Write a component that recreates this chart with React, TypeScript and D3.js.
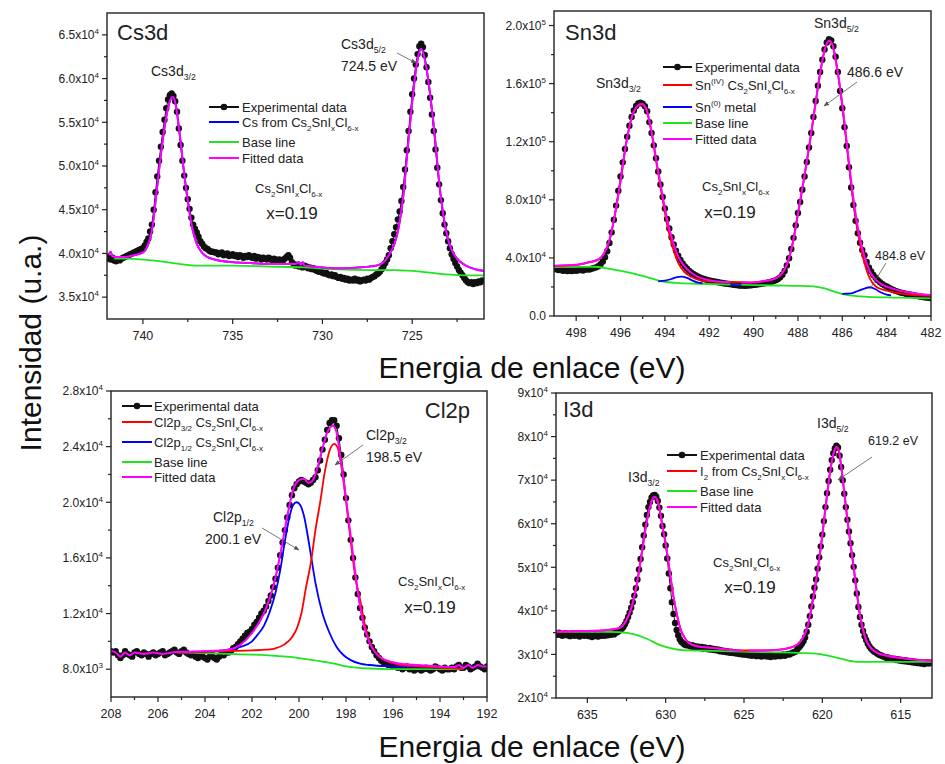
import React from 'react';
import * as d3 from 'd3';

type Pt = [number, number];
type Part = [string, ('n' | 'b' | 'p')?];

const FONT = 'Arial, "Liberation Sans", Helvetica, sans-serif';
const STEP = 0.1; // eV between experimental points
const FIT = '#ff00ff';
const RED = '#ff0000';
const BLUE = '#0000ff';
const BASE = '#1ee61e';

// ---------- Cs3d (counts in 10^3) ----------
const csFirstE = 742.0;
const csCounts = [
  39.6, 39.4, 39.3, 39.5, 39.2, 39.1, 39.3, 39.2, 39.4, 39.5, // 742.0
  39.6, 39.7, 39.8, 39.9, 40.0, 40.1, 40.2, 40.3, 40.4, 40.5, // 741.0
  40.6, 40.9, 41.3, 41.7, 42.5, 43.3, 45.0, 47.0, 48.8, 50.6, // 740.0
  52.2, 53.9, 55.3, 56.6, 57.6, 58.1, 58.3, 58.0, 57.4, 56.2, // 739.0
  54.3, 52.4, 50.6, 48.9, 47.5, 46.2, 45.1, 44.1, 43.3, 42.8, // 738.0
  42.4, 41.9, 41.4, 41.1, 40.8, 40.6, 40.5, 40.3, 40.2, 40.2, // 737.0
  40.1, 40.1, 39.9, 40.0, 40.1, 39.8, 39.9, 40.0, 39.7, 39.8, // 736.0
  39.9, 39.7, 39.8, 39.6, 39.8, 39.7, 39.5, 39.7, 39.6, 39.8, // 735.0
  39.6, 39.5, 39.7, 39.4, 39.6, 39.5, 39.3, 39.5, 39.4, 39.3, // 734.0
  39.5, 39.4, 39.2, 39.4, 39.3, 39.2, 39.3, 39.1, 39.2, 39.4, // 733.0
  39.6, 39.8, 39.5, 39.0, 38.8, 38.6, 38.7, 38.5, 38.6, 38.4, // 732.0
  38.6, 38.5, 38.3, 38.4, 38.2, 38.3, 38.1, 38.0, 37.9, 38.0, // 731.0
  37.8, 37.7, 37.8, 37.6, 37.5, 37.6, 37.4, 37.5, 37.3, 37.2, // 730.0
  37.3, 37.1, 37.2, 37.0, 37.1, 36.9, 37.0, 36.9, 37.1, 36.9, // 729.0
  37.0, 36.8, 36.9, 37.0, 36.9, 37.1, 37.0, 37.2, 37.3, 37.4, // 728.0
  37.6, 37.7, 37.9, 38.2, 38.5, 38.9, 39.3, 39.8, 40.6, 41.4, // 727.0
  42.2, 43.0, 43.9, 44.8, 46.0, 47.6, 49.6, 51.8, 54.0, 56.2, // 726.0
  58.2, 60.0, 61.6, 62.8, 63.7, 64.0, 63.6, 62.7, 61.3, 59.6, // 725.0
  57.8, 55.9, 54.0, 51.9, 49.8, 47.9, 46.1, 44.6, 43.3, 42.3, // 724.0
  41.4, 40.6, 39.9, 39.4, 38.9, 38.5, 38.1, 37.8, 37.5, 37.2, // 723.0
  36.9, 36.7, 36.6, 36.7, 36.5, 36.7, 36.6, 36.8, 36.7, 36.9, // 722.0
];
const csFit: Pt[] = [
  [741.9, 39.9], [741.8, 40.2], [741.7, 39.7], [741.5, 39.6], [741.0, 39.6], [740.5, 39.8],
  [740.0, 40.1], [739.75, 40.8], [739.5, 42.6], [739.25, 46.8], [739.0, 51.3], [738.75, 55.0],
  [738.5, 57.4], [738.35, 57.9], [738.2, 57.3], [738.0, 54.5], [737.75, 50.0], [737.5, 46.0],
  [737.25, 42.9], [737.0, 41.1], [736.75, 40.2], [736.5, 39.7], [736.0, 39.3], [735.0, 39.0],
  [734.0, 38.9], [733.0, 38.8], [732.0, 38.8], [731.5, 38.8], [731.3, 39.0], [731.2, 38.7],
  [731.1, 39.0], [731.0, 38.6], [730.5, 38.5], [730.0, 38.4], [729.0, 38.3], [728.0, 38.4],
  [727.0, 38.6], [726.5, 39.2], [726.25, 40.0], [726.0, 41.0], [725.75, 43.0], [725.5, 46.5],
  [725.25, 52.0], [725.0, 57.3], [724.75, 61.6], [724.5, 63.4], [724.25, 61.7], [724.0, 58.2],
  [723.75, 53.6], [723.5, 48.2], [723.25, 44.2], [723.0, 41.6], [722.75, 40.2], [722.5, 39.4],
  [722.0, 38.6], [721.5, 38.2], [721.0, 38.0],
];
const csBase: Pt[] = [
  [741.6, 39.4], [741.0, 39.4], [740.0, 39.3], [739.0, 39.1], [738.0, 38.8], [737.0, 38.6],
  [736.0, 38.6], [735.0, 38.6], [733.0, 38.5], [731.0, 38.4], [729.5, 38.2], [727.0, 38.1],
  [726.0, 38.1], [725.0, 38.0], [724.0, 37.8], [723.0, 37.6], [722.0, 37.5], [721.0, 37.5],
];

// ---------- Sn3d (counts in 10^3) ----------
const snFirstE = 499.0;
const snCounts = [
  32.8, 32.2, 31.6, 31.9, 31.2, 31.5, 30.9, 31.3, 31.0, 31.4, // 499.0
  31.1, 31.5, 31.8, 31.3, 31.9, 32.2, 32.0, 32.6, 33.0, 33.5, // 498.0
  34.3, 35.6, 37.6, 40.4, 44.6, 50.3, 57.6, 66.3, 76.0, 86.2, // 497.0
  96.0, 105.8, 115.0, 123.5, 131.0, 137.0, 141.5, 144.6, 146.3, 146.8, // 496.0
  146.2, 144.4, 141.0, 133.5, 126.0, 117.5, 108.6, 99.5, 90.5, 82.0, // 495.0
  74.0, 66.8, 60.2, 54.3, 49.3, 45.0, 41.5, 38.6, 36.2, 34.2, // 494.0
  32.5, 31.0, 29.8, 28.7, 27.9, 27.1, 26.3, 25.8, 25.3, 24.9, // 493.0
  24.5, 24.1, 23.8, 23.6, 23.2, 23.0, 22.7, 22.4, 22.3, 22.0, // 492.0
  21.8, 21.5, 21.3, 21.1, 20.9, 21.0, 20.8, 20.9, 21.1, 21.2, // 491.0
  21.4, 21.6, 21.8, 22.0, 22.3, 22.5, 22.8, 23.2, 23.6, 24.1, // 490.0
  24.7, 25.5, 26.6, 28.4, 31.0, 34.8, 39.8, 46.2, 53.8, 62.4, // 489.0
  71.0, 78.5, 87.0, 96.0, 106.0, 116.0, 126.0, 137.0, 148.0, 158.5, // 488.0
  168.0, 176.5, 183.5, 188.3, 190.6, 189.8, 185.8, 178.5, 168.0, 155.0, // 487.0
  143.0, 130.0, 117.0, 102.5, 88.5, 76.5, 65.5, 57.0, 50.5, 45.5, // 486.0
  41.8, 37.2, 33.5, 30.6, 28.3, 26.4, 24.7, 23.3, 22.1, 21.1, // 485.0
  20.3, 19.4, 18.6, 17.9, 17.3, 16.8, 16.3, 15.9, 15.6, 15.2, // 484.0
  14.9, 14.6, 14.3, 14.0, 13.7, 13.4, 13.2, 12.9, 12.7, 12.5, // 483.0
  12.3, // 482.0
];
const snFitA: Pt[] = [
  [499.0, 34.6], [498.0, 35.3], [497.5, 36.8], [497.0, 39.0], [496.75, 43.0], [496.5, 52.3],
  [496.25, 70.0], [496.0, 93.0], [495.75, 118.5], [495.5, 136.5], [495.25, 144.5], [495.05, 146.0],
  [494.85, 143.0], [494.6, 127.0], [494.35, 104.0], [494.1, 82.5], [493.9, 66.5], [493.65, 52.0],
  [493.4, 41.0], [493.1, 34.0], [492.8, 29.6], [492.4, 26.2], [492.0, 24.6], [491.5, 23.6],
  [491.05, 23.1],
];
const snFitB: Pt[] = [
  [490.55, 23.0], [490.0, 23.2], [489.5, 24.2], [489.0, 26.0], [488.75, 28.8], [488.5, 35.5],
  [488.25, 49.0], [488.0, 70.5], [487.75, 92.5], [487.5, 116.0], [487.25, 142.0], [487.0, 167.0],
  [486.8, 183.0], [486.6, 189.6], [486.45, 187.0], [486.25, 172.0], [486.0, 146.0], [485.75, 112.5],
  [485.5, 81.0], [485.25, 57.0], [485.0, 41.0], [484.75, 30.5], [484.5, 25.0], [484.25, 22.0],
  [484.0, 20.2], [483.5, 17.8], [483.0, 16.2], [482.5, 15.2], [482.0, 14.5],
];
const snIV: Pt[] = [
  [499.0, 34.4], [498.0, 35.1], [497.5, 36.6], [497.0, 38.8], [496.75, 42.8], [496.5, 52.0],
  [496.25, 69.8], [496.0, 92.8], [495.75, 118.3], [495.5, 136.3], [495.25, 144.3], [495.05, 145.8],
  [494.85, 142.6], [494.6, 126.0], [494.35, 102.5], [494.1, 80.0], [493.9, 63.0], [493.65, 47.5],
  [493.4, 36.5], [493.1, 30.0], [492.8, 26.8], [492.4, 24.6], [492.0, 23.8], [491.5, 23.4],
  [491.0, 23.4], [490.5, 23.3], [490.0, 23.0], [489.5, 24.0], [489.0, 25.8], [488.75, 28.6],
  [488.5, 35.3], [488.25, 48.8], [488.0, 70.3], [487.75, 92.3], [487.5, 115.8], [487.25, 141.8],
  [487.0, 166.8], [486.8, 182.8], [486.6, 189.4], [486.45, 186.8], [486.25, 171.6], [486.0, 145.2],
  [485.75, 111.0], [485.5, 78.5], [485.25, 53.5], [485.0, 36.5], [484.75, 25.5], [484.5, 20.5],
  [484.25, 18.5], [484.0, 17.4], [483.5, 15.8], [483.0, 14.8], [482.5, 14.2], [482.0, 13.8],
];
const snMetalA: Pt[] = [
  [494.3, 23.9], [494.0, 24.3], [493.7, 25.5], [493.45, 26.8], [493.25, 27.1], [493.0, 26.2],
  [492.75, 24.4], [492.5, 23.0], [492.3, 22.6],
];
const snMetalB: Pt[] = [[491.05, 21.4], [490.8, 21.3], [490.55, 21.3]];
const snMetalC: Pt[] = [
  [486.0, 15.2], [485.6, 15.6], [485.3, 17.2], [485.0, 18.9], [484.75, 19.8], [484.5, 18.4],
  [484.25, 16.2], [484.0, 14.7], [483.8, 14.2],
];
const snBase: Pt[] = [
  [499.0, 33.6], [498.0, 33.8], [497.2, 33.9], [496.5, 32.5], [495.5, 29.6], [494.8, 26.8],
  [494.2, 24.1], [493.5, 22.8], [492.5, 22.2], [491.0, 21.6], [490.0, 21.3], [489.0, 21.0],
  [488.0, 20.8], [487.3, 20.4], [486.8, 19.0], [486.3, 16.5], [485.8, 14.6], [485.0, 13.4],
  [484.0, 12.8], [483.0, 12.5], [482.0, 12.2],
];

// ---------- Cl2p (counts in 10^3) ----------
const clFirstE = 208.0;
const clCounts = [
  9.3, 9.2, 9.3, 9.0, 8.8, 9.0, 9.3, 9.1, 9.0, 8.9, // 208.0
  9.2, 9.3, 9.1, 9.0, 9.2, 9.1, 8.9, 9.1, 9.2, 9.0, // 207.0
  9.1, 9.2, 9.3, 9.0, 9.1, 9.2, 9.3, 9.4, 9.2, 9.1, // 206.0
  9.3, 9.4, 9.2, 9.1, 9.0, 9.1, 8.9, 8.8, 9.0, 8.9, // 205.0
  8.8, 8.7, 8.9, 9.0, 8.8, 8.7, 8.9, 9.1, 9.0, 9.2, // 204.0
  9.2, 9.3, 9.5, 9.6, 9.8, 10.0, 10.2, 10.4, 10.6, 10.7, // 203.0
  10.9, 11.2, 11.4, 11.7, 12.0, 12.2, 12.5, 12.9, 13.3, 13.9, // 202.0
  14.5, 15.3, 16.2, 17.1, 18.0, 18.9, 19.8, 20.5, 21.0, 21.3, // 201.0
  21.5, 21.6, 21.5, 21.4, 21.3, 21.4, 21.6, 21.8, 22.3, 23.0, // 200.0
  23.8, 24.5, 25.2, 25.7, 25.9, 25.9, 25.5, 24.6, 23.4, 22.0, // 199.0
  20.3, 18.7, 17.3, 16.0, 14.6, 13.4, 12.4, 11.7, 11.0, 10.5, // 198.0
  10.0, 9.6, 9.3, 9.0, 8.8, 8.6, 8.5, 8.4, 8.3, 8.3, // 197.0
  8.2, 8.2, 8.1, 8.2, 8.0, 8.1, 8.2, 8.0, 8.1, 7.9, // 196.0
  8.0, 8.1, 7.9, 8.0, 8.1, 8.0, 7.9, 8.0, 8.2, 8.1, // 195.0
  8.0, 7.9, 8.1, 8.0, 8.0, 8.1, 8.0, 8.2, 8.3, 8.1, // 194.0
  8.1, 8.3, 8.2, 8.0, 8.1, 8.2, 8.4, 8.2, 8.1, 8.0, // 193.0
  8.2, // 192.0
];
const clFit: Pt[] = [
  [208.0, 9.3], [207.8, 9.2], [207.6, 8.9], [207.4, 9.2], [207.2, 9.0], [207.0, 9.2],
  [206.6, 9.1], [206.2, 9.2], [205.8, 9.1], [205.4, 9.2], [205.0, 9.25], [204.0, 9.3],
  [203.0, 9.4], [202.5, 9.75], [202.0, 10.6], [201.5, 12.0], [201.25, 13.1], [201.0, 14.6],
  [200.75, 16.7], [200.5, 19.0], [200.25, 20.9], [200.0, 21.6], [199.8, 21.7], [199.6, 21.4],
  [199.45, 21.5], [199.25, 22.3], [199.0, 23.9], [198.75, 25.2], [198.55, 25.5], [198.4, 25.0],
  [198.25, 23.4], [198.0, 20.3], [197.75, 16.9], [197.5, 13.6], [197.25, 11.2], [197.0, 9.9],
  [196.75, 9.2], [196.5, 8.8], [196.0, 8.5], [195.5, 8.35], [195.0, 8.3], [194.0, 8.2],
  [193.4, 8.15], [193.2, 8.3], [193.0, 8.1], [192.8, 8.3], [192.6, 8.1], [192.4, 8.3],
  [192.2, 8.2], [192.0, 8.2],
];
const cl32: Pt[] = [
  [205.2, 9.2], [204.0, 9.25], [203.0, 9.3], [202.0, 9.35], [201.4, 9.4], [201.0, 9.5],
  [200.6, 9.8], [200.3, 10.3], [200.1, 10.9], [199.9, 12.0], [199.7, 13.9], [199.5, 15.6],
  [199.3, 18.0], [199.1, 20.0], [198.9, 22.2], [198.7, 23.7], [198.5, 24.2], [198.35, 23.9],
  [198.2, 22.6], [198.0, 20.1], [197.8, 17.2], [197.6, 14.6], [197.4, 13.0], [197.2, 11.2],
  [197.0, 10.0], [196.7, 9.1], [196.3, 8.6], [195.7, 8.3], [195.0, 8.2], [194.0, 8.1], [193.0, 8.05],
];
const cl12: Pt[] = [
  [205.2, 9.2], [204.0, 9.25], [203.5, 9.3], [203.0, 9.4], [202.5, 9.6], [202.0, 10.0],
  [201.75, 10.5], [201.5, 11.1], [201.25, 12.1], [201.0, 13.5], [200.8, 15.1], [200.6, 17.2],
  [200.4, 19.0], [200.25, 19.8], [200.1, 20.0], [199.95, 19.8], [199.8, 19.1], [199.55, 16.8],
  [199.3, 14.2], [199.0, 12.0], [198.7, 10.6], [198.4, 9.6], [198.1, 9.0], [197.8, 8.65],
  [197.4, 8.4], [197.0, 8.3], [196.0, 8.2], [195.0, 8.15], [194.0, 8.1], [193.0, 8.05],
];
const clBase: Pt[] = [
  [205.2, 9.19], [204.0, 9.15], [203.0, 9.1], [202.0, 9.05], [201.0, 8.95], [200.0, 8.8],
  [199.0, 8.55], [198.5, 8.4], [198.0, 8.2], [197.5, 8.1], [197.0, 8.05], [196.0, 8.0],
  [194.0, 8.0], [193.0, 8.0],
];

// ---------- I3d (counts in 10^3) ----------
const iFirstE = 637.0;
const iCounts = [
  34.8, 34.5, 35.0, 34.6, 34.3, 34.7, 34.9, 34.4, 34.6, 34.2, // 637.0
  34.5, 34.8, 34.3, 34.6, 34.4, 34.1, 34.5, 34.7, 34.3, 34.4, // 636.0
  34.6, 34.2, 34.4, 34.0, 34.3, 34.5, 34.2, 34.1, 34.4, 34.3, // 635.0
  34.5, 34.3, 34.6, 34.4, 34.7, 34.5, 34.8, 34.6, 35.0, 35.1, // 634.0
  35.3, 35.6, 35.9, 36.3, 36.9, 37.7, 38.6, 39.6, 40.7, 42.0, // 633.0
  43.5, 45.2, 47.2, 49.5, 51.9, 54.6, 57.3, 59.8, 62.0, 63.8, // 632.0
  65.0, 66.0, 66.5, 66.6, 66.2, 65.2, 63.7, 61.8, 59.5, 57.6, // 631.0
  55.0, 52.0, 48.6, 45.2, 42.0, 39.3, 37.2, 35.6, 34.4, 33.5, // 630.0
  32.9, 32.6, 32.3, 32.1, 32.4, 32.0, 31.8, 32.1, 31.7, 31.9, // 629.0
  31.6, 31.8, 31.5, 31.7, 31.3, 31.6, 31.4, 31.2, 31.5, 31.1, // 628.0
  31.3, 31.0, 31.2, 30.9, 31.1, 30.7, 30.9, 30.6, 30.8, 30.5, // 627.0
  30.7, 30.4, 30.6, 30.3, 30.5, 30.2, 30.4, 30.1, 30.3, 30.0, // 626.0
  30.2, 29.9, 30.1, 29.8, 30.0, 29.7, 30.0, 29.8, 29.6, 29.9, // 625.0
  29.7, 29.5, 29.8, 29.6, 29.9, 29.5, 29.7, 29.4, 29.6, 29.8, // 624.0
  29.5, 29.7, 29.9, 29.6, 29.8, 30.0, 29.7, 29.9, 30.1, 30.0, // 623.0
  30.2, 30.4, 30.5, 30.7, 31.2, 31.6, 32.0, 32.5, 33.1, 33.9, // 622.0
  35.2, 36.8, 38.8, 41.0, 43.3, 45.3, 47.2, 49.7, 52.3, 54.8, // 621.0
  57.5, 60.6, 63.8, 67.0, 69.8, 72.4, 74.6, 76.2, 77.3, 77.9, // 620.0
  77.5, 75.6, 73.0, 70.0, 66.9, 63.8, 60.9, 58.2, 55.5, 52.8, // 619.0
  50.1, 47.0, 44.0, 40.9, 38.6, 36.8, 35.4, 34.2, 33.3, 32.5, // 618.0
  31.9, 31.4, 31.0, 30.7, 30.5, 30.2, 30.0, 29.8, 29.7, 29.5, // 617.0
  29.4, 29.2, 29.3, 29.0, 29.1, 28.9, 29.0, 28.7, 28.9, 28.6, // 616.0
  28.8, 28.5, 28.7, 28.4, 28.6, 28.3, 28.5, 28.2, 28.4, 28.1, // 615.0
  28.3, 28.0, 28.2, 27.9, 28.1, 27.8, 28.0, 28.2, 27.9, 28.1, // 614.0
  28.0, // 613.0
];
const iFitA: Pt[] = [
  [637.0, 35.2], [636.0, 35.3], [635.0, 35.4], [634.0, 35.5], [633.5, 35.7], [633.0, 36.0],
  [632.75, 36.6], [632.5, 37.9], [632.25, 40.0], [632.0, 43.3], [631.75, 48.0], [631.5, 53.8],
  [631.25, 59.6], [631.0, 63.9], [630.85, 65.6], [630.7, 66.2], [630.55, 65.5], [630.4, 63.6],
  [630.2, 59.2], [630.0, 55.5], [629.75, 49.3], [629.5, 43.2], [629.25, 38.6], [629.0, 35.3],
  [628.75, 33.6], [628.5, 32.6], [628.0, 31.9], [627.0, 31.5], [626.0, 31.1], [625.1, 30.9],
];
const iFitB: Pt[] = [
  [624.7, 30.9], [624.0, 30.9], [623.0, 31.0], [622.5, 31.2], [622.0, 31.6], [621.6, 32.3],
  [621.3, 33.5], [621.1, 34.8], [620.9, 37.0], [620.7, 40.6], [620.5, 44.5], [620.3, 49.3],
  [620.1, 54.5], [619.9, 60.4], [619.7, 66.6], [619.5, 72.0], [619.3, 75.9], [619.1, 77.6],
  [618.95, 76.8], [618.8, 73.3], [618.6, 67.2], [618.4, 61.0], [618.2, 55.4], [618.0, 50.0],
  [617.8, 44.2], [617.6, 39.2], [617.4, 35.6], [617.2, 33.3], [617.0, 31.9], [616.6, 30.6],
  [616.0, 29.8], [615.0, 29.2], [614.0, 28.8], [613.0, 28.6],
];
const iBase: Pt[] = [
  [637.0, 35.2], [634.0, 35.2], [633.0, 35.1], [632.0, 34.6], [631.2, 33.6], [630.4, 32.2],
  [629.5, 31.3], [628.9, 31.0], [627.0, 30.8], [624.6, 30.6], [622.0, 30.4], [620.4, 30.2],
  [619.5, 29.6], [618.9, 29.1], [617.8, 28.3], [616.0, 28.3], [613.0, 28.3],
];

const toPts = (first: number, counts: number[]): Pt[] =>
  counts.map((v, i) => [first - i * STEP, v] as Pt);

const chem: Part[] = [['Cs'], ['2', 'b'], ['SnI'], ['x', 'b'], ['Cl'], ['6-x', 'b']];

function Rich({ x, y, size, parts, anchor = 'start' }: { x: number; y: number; size: number; parts: Part[]; anchor?: string }) {
  let cur = 0;
  return (
    <text x={x} y={y} fontSize={size} textAnchor={anchor} fill="#222">
      {parts.map(([t, k = 'n'], i) => {
        const off = k === 'b' ? size * 0.32 : k === 'p' ? -size * 0.42 : 0;
        const dy = off - cur;
        cur = off;
        return (
          <tspan key={i} dy={dy} fontSize={k === 'n' ? size : size * 0.62}>
            {t}
          </tspan>
        );
      })}
    </text>
  );
}

interface Item { y: number; color: string; dot?: boolean; parts: Part[] }
function Legend({ x1, x2, tx, items }: { x1: number; x2: number; tx: number; items: Item[] }) {
  return (
    <g>
      {items.map((it, i) => (
        <g key={i}>
          <line x1={x1} x2={x2} y1={it.y} y2={it.y} stroke={it.color} strokeWidth={2} />
          {it.dot && <circle cx={(x1 + x2) / 2} cy={it.y} r={3.3} fill="#111" />}
          <Rich x={tx} y={it.y + 4.6} size={13} parts={it.parts} />
        </g>
      ))}
    </g>
  );
}

const legendRest = (ys: number[]): Item[] => [
  { y: ys[0], color: BASE, parts: [['Base line']] },
  { y: ys[1], color: FIT, parts: [['Fitted data']] },
];

function Arrow({ x1, y1, x2, y2 }: { x1: number; y1: number; x2: number; y2: number }) {
  return <line x1={x1} y1={y1} x2={x2} y2={y2} stroke="#555" strokeWidth={0.8} markerEnd="url(#arr)" />;
}

interface Series { pts: Pt[]; color: string; w?: number }
interface PanelProps {
  id: string; x0: number; x1: number; y0: number; y1: number;
  xDom: [number, number]; yDom: [number, number];
  xMajor: number[]; xMinor: number[]; yMajor: number[]; yMinor: number[];
  dec: number; dots: Pt[]; lines: Series[];
}

function sci(v: number, dec: number) {
  if (v === 0) return { m: '0.0', e: '' };
  const val = v * 1000;
  const e = Math.floor(Math.log10(val) + 1e-9);
  return { m: (val / Math.pow(10, e)).toFixed(dec), e: String(e) };
}

function Panel(p: PanelProps) {
  const x = d3.scaleLinear().domain(p.xDom).range([p.x0, p.x1]);
  const y = d3.scaleLinear().domain(p.yDom).range([p.y1, p.y0]);
  const smooth = d3.line<Pt>().x((d) => x(d[0])).y((d) => y(d[1])).curve(d3.curveMonotoneX);
  const raw = d3.line<Pt>().x((d) => x(d[0])).y((d) => y(d[1]));
  const ink = '#222';
  return (
    <g>
      <clipPath id={p.id}>
        <rect x={p.x0} y={p.y0} width={p.x1 - p.x0} height={p.y1 - p.y0} />
      </clipPath>
      <g clipPath={`url(#${p.id})`}>
        <path d={raw(p.dots) || ''} fill="none" stroke="#111" strokeWidth={1} />
        {p.dots.map((d, i) => (
          <circle key={i} cx={x(d[0])} cy={y(d[1])} r={3.2} fill="#111" />
        ))}
        {p.lines.map((s, i) => (
          <path key={i} d={smooth(s.pts) || ''} fill="none" stroke={s.color} strokeWidth={s.w ?? 1.8} />
        ))}
      </g>
      <rect x={p.x0} y={p.y0} width={p.x1 - p.x0} height={p.y1 - p.y0} fill="none" stroke={ink} strokeWidth={1.4} />
      {p.xMajor.map((t) => (
        <g key={'xM' + t}>
          <line x1={x(t)} x2={x(t)} y1={p.y1} y2={p.y1 + 5} stroke={ink} strokeWidth={1.2} />
          <text x={x(t)} y={p.y1 + 20.5} fontSize={12.5} textAnchor="middle" fill={ink}>{t}</text>
        </g>
      ))}
      {p.xMinor.map((t) => (
        <line key={'xm' + t} x1={x(t)} x2={x(t)} y1={p.y1} y2={p.y1 + 3} stroke={ink} strokeWidth={1.2} />
      ))}
      {p.yMajor.map((t) => {
        const s = sci(t, p.dec);
        return (
          <g key={'yM' + t}>
            <line x1={p.x0 - 5} x2={p.x0} y1={y(t)} y2={y(t)} stroke={ink} strokeWidth={1.2} />
            <text x={p.x0 - 8} y={y(t) + 4.3} fontSize={12} textAnchor="end" fill={ink}>
              {s.e ? s.m + 'x10' : s.m}
              {s.e && <tspan dy={-5} fontSize={8}>{s.e}</tspan>}
            </text>
          </g>
        );
      })}
      {p.yMinor.map((t) => (
        <line key={'ym' + t} x1={p.x0 - 3} x2={p.x0} y1={y(t)} y2={y(t)} stroke={ink} strokeWidth={1.2} />
      ))}
    </g>
  );
}

export default function App() {
  const csDots = toPts(csFirstE, csCounts);
  const snDots = toPts(snFirstE, snCounts);
  const clDots = toPts(clFirstE, clCounts);
  const iDots = toPts(iFirstE, iCounts);
  const expItem = (yy: number): Item => ({ y: yy, color: '#111', dot: true, parts: [['Experimental data']] });

  return (
    <svg width={945} height={764} style={{ position: 'absolute', left: 0, top: 0, background: '#fff', fontFamily: FONT }}>
      <defs>
        <marker id="arr" viewBox="0 0 10 10" refX="9" refY="5" markerWidth="7" markerHeight="7" orient="auto">
          <path d="M0,1 L10,5 L0,9 z" fill="#555" />
        </marker>
      </defs>

      {/* Cs3d */}
      <Panel
        id="cs" x0={107} x1={484} y0={13} y1={319} xDom={[742, 721]} yDom={[32.5, 67.5]}
        xMajor={[740, 735, 730, 725]} xMinor={[737.5, 732.5, 727.5, 722.5]}
        yMajor={[35, 40, 45, 50, 55, 60, 65]} yMinor={[37.5, 42.5, 47.5, 52.5, 57.5, 62.5]}
        dec={1} dots={csDots}
        lines={[
          { pts: csBase, color: BASE },
          { pts: csFit, color: BLUE },
          { pts: csFit, color: FIT, w: 2 },
        ]}
      />
      <text x={117} y={40} fontSize={22} fill="#222">Cs3d</text>
      <Rich x={151} y={76} size={14} parts={[['Cs3d'], ['3/2', 'b']]} />
      <Rich x={341} y={49} size={14} parts={[['Cs3d'], ['5/2', 'b']]} />
      <text x={341} y={71} fontSize={14} fill="#222">724.5 eV</text>
      <Arrow x1={397} y1={53} x2={416} y2={63} />
      <Legend x1={209} x2={239} tx={242} items={[
        expItem(107),
        { y: 122, color: BLUE, parts: [['Cs from '], ...chem] },
        ...legendRest([142, 158]),
      ]} />
      <Rich x={255} y={193} size={13} parts={chem} />
      <text x={292} y={219} fontSize={17} textAnchor="middle" fill="#222">x=0.19</text>

      {/* Sn3d */}
      <Panel
        id="sn" x0={554} x1={931} y0={11} y1={316} xDom={[499, 482]} yDom={[0, 210]}
        xMajor={[498, 496, 494, 492, 490, 488, 486, 484, 482]}
        xMinor={[497, 495, 493, 491, 489, 487, 485, 483]}
        yMajor={[0, 40, 80, 120, 160, 200]} yMinor={[20, 60, 100, 140, 180]}
        dec={1} dots={snDots}
        lines={[
          { pts: snBase, color: BASE },
          { pts: snMetalA, color: BLUE },
          { pts: snMetalB, color: BLUE },
          { pts: snMetalC, color: BLUE },
          { pts: snIV, color: RED },
          { pts: snFitA, color: FIT, w: 2 },
          { pts: snFitB, color: FIT, w: 2 },
        ]}
      />
      <text x={565} y={40} fontSize={22} fill="#222">Sn3d</text>
      <Rich x={596} y={88} size={14} parts={[['Sn3d'], ['3/2', 'b']]} />
      <Rich x={814} y={28} size={14} parts={[['Sn3d'], ['5/2', 'b']]} />
      <text x={847} y={77} fontSize={14} fill="#222">486.6 eV</text>
      <Arrow x1={857} y1={82} x2={824} y2={106} />
      <text x={875} y={259.5} fontSize={12.5} fill="#222">484.8 eV</text>
      <line x1={886} y1={263} x2={870} y2={289} stroke="#555" strokeWidth={0.8} />
      <Legend x1={663} x2={692} tx={695} items={[
        expItem(67),
        { y: 85, color: RED, parts: [['Sn'], ['(IV)', 'p'], [' '], ...chem] },
        { y: 107, color: BLUE, parts: [['Sn'], ['(0)', 'p'], [' metal']] },
        ...legendRest([123, 139]),
      ]} />
      <Rich x={702} y={191} size={13} parts={chem} />
      <text x={730} y={218} fontSize={17} textAnchor="middle" fill="#222">x=0.19</text>

      {/* Cl2p */}
      <Panel
        id="cl" x0={111} x1={487} y0={391} y1={697} xDom={[208, 192]} yDom={[6, 28]}
        xMajor={[208, 206, 204, 202, 200, 198, 196, 194, 192]}
        xMinor={[207, 205, 203, 201, 199, 197, 195, 193]}
        yMajor={[8, 12, 16, 20, 24, 28]} yMinor={[10, 14, 18, 22, 26]}
        dec={1} dots={clDots}
        lines={[
          { pts: clBase, color: BASE },
          { pts: cl12, color: BLUE },
          { pts: cl32, color: RED },
          { pts: clFit, color: FIT, w: 2 },
        ]}
      />
      <text x={470} y={418} fontSize={22} textAnchor="end" fill="#222">Cl2p</text>
      <Rich x={366} y={440} size={14} parts={[['Cl2p'], ['3/2', 'b']]} />
      <text x={366} y={462} fontSize={14} fill="#222">198.5 eV</text>
      <Arrow x1={363} y1={445} x2={335} y2={465} />
      <Rich x={213} y={522} size={14} parts={[['Cl2p'], ['1/2', 'b']]} />
      <text x={205} y={544} fontSize={14} fill="#222">200.1 eV</text>
      <Arrow x1={262} y1={528} x2={299} y2={550} />
      <Legend x1={122} x2={152} tx={154} items={[
        expItem(406),
        { y: 422, color: RED, parts: [['Cl2p'], ['3/2', 'b'], [' '], ...chem] },
        { y: 442, color: BLUE, parts: [['Cl2p'], ['1/2', 'b'], [' '], ...chem] },
        ...legendRest([462, 477]),
      ]} />
      <Rich x={398} y={586} size={13} parts={chem} />
      <text x={430} y={613} fontSize={17} textAnchor="middle" fill="#222">x=0.19</text>

      {/* I3d */}
      <Panel
        id="id" x0={556} x1={932} y0={393} y1={698} xDom={[637, 613]} yDom={[20, 90]}
        xMajor={[635, 630, 625, 620, 615]} xMinor={[632.5, 627.5, 622.5, 617.5]}
        yMajor={[20, 30, 40, 50, 60, 70, 80, 90]} yMinor={[25, 35, 45, 55, 65, 75, 85]}
        dec={0} dots={iDots}
        lines={[
          { pts: iBase, color: BASE },
          { pts: iFitA.concat(iFitB), color: RED },
          { pts: iFitA, color: FIT, w: 2 },
          { pts: iFitB, color: FIT, w: 2 },
        ]}
      />
      <text x={563} y={417} fontSize={22} fill="#222">I3d</text>
      <Rich x={628} y={482} size={14} parts={[['I3d'], ['3/2', 'b']]} />
      <Rich x={817} y={428} size={14} parts={[['I3d'], ['5/2', 'b']]} />
      <text x={868} y={444.5} fontSize={12.5} fill="#222">619.2 eV</text>
      <Arrow x1={872} y1={457} x2={838} y2={480} />
      <Legend x1={667} x2={697} tx={700} items={[
        expItem(455),
        { y: 471, color: RED, parts: [['I'], ['2', 'b'], [' from '], ...chem] },
        ...legendRest([491, 507]),
      ]} />
      <Rich x={713} y={567} size={13} parts={chem} />
      <text x={750} y={593} fontSize={17} textAnchor="middle" fill="#222">x=0.19</text>

      {/* shared axis titles */}
      <text transform="translate(30,343) rotate(-90)" fontSize={30} textAnchor="middle" dominantBaseline="central" fill="#111">
        Intensidad (u.a.)
      </text>
      <text x={532} y={367} fontSize={30} textAnchor="middle" dominantBaseline="central" fill="#111">
        Energia de enlace (eV)
      </text>
      <text x={532} y={746} fontSize={30} textAnchor="middle" dominantBaseline="central" fill="#111">
        Energia de enlace (eV)
      </text>
    </svg>
  );
}
